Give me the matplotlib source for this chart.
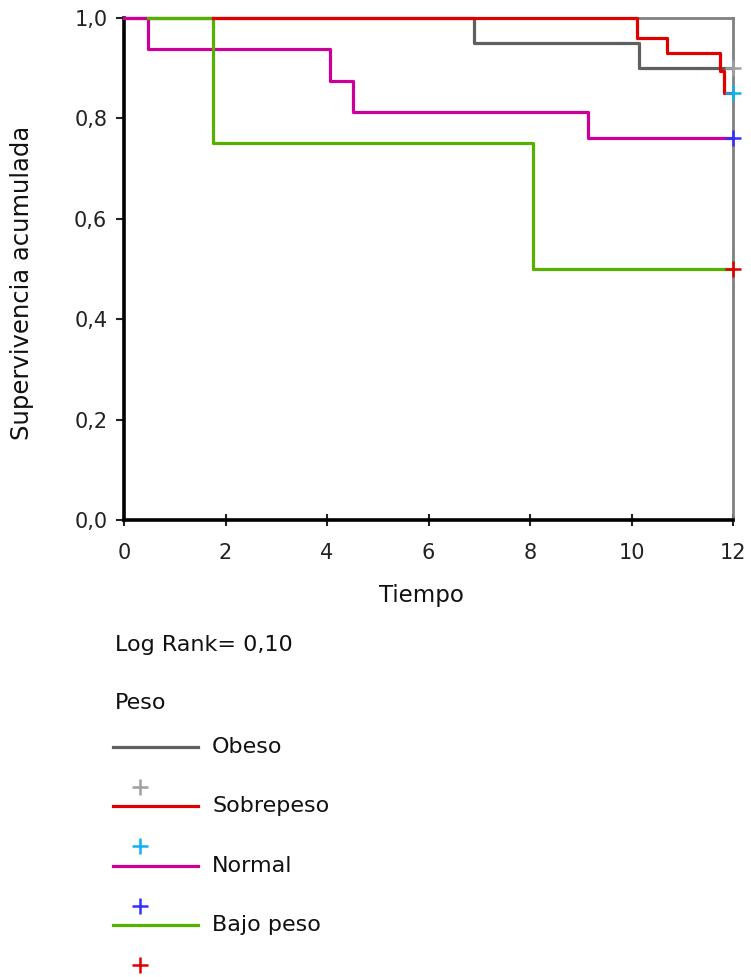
import numpy as np
import matplotlib.pyplot as plt
from matplotlib.lines import Line2D

# Kaplan-Meier step data (time, cumulative survival)
obeso_t = [0, 6.9, 10.15, 12]
obeso_s = [1.0, 0.95, 0.90, 0.90]
sobrepeso_t = [1.76, 10.1, 10.7, 11.74, 11.82, 12]
sobrepeso_s = [1.0, 0.96, 0.93, 0.895, 0.85, 0.85]
normal_t = [0, 0.48, 4.05, 4.52, 9.15, 12]
normal_s = [1.0, 0.9375, 0.875, 0.8125, 0.76, 0.76]
bajo_t = [0.48, 1.76, 8.05, 12]
bajo_s = [1.0, 0.75, 0.50, 0.50]

# censored observations (plus signs)
censor_t = [12, 12, 12, 12]
censor_s = [0.90, 0.85, 0.76, 0.50]

groups = ["Obeso", "Sobrepeso", "Normal", "Bajo peso"]
line_colors = ["#606060", "#e00000", "#cc0099", "#55b000"]
censor_colors = ["#a0a0a0", "#10b0f0", "#3030ff", "#e00000"]

x_ticks = [0, 2, 4, 6, 8, 10, 12]
y_ticks = [0.0, 0.2, 0.4, 0.6, 0.8, 1.0]
log_rank = "Log Rank= 0,10"

plt.rcParams['font.family'] = ['DejaVu Sans']

W, H = 751, 977
fig = plt.figure(figsize=(W / 100, H / 100), dpi=100)
ax = fig.add_axes([124 / W, 1 - 520 / H, (733 - 124) / W, (520 - 18) / H])

series = [(obeso_t, obeso_s), (normal_t, normal_s), (bajo_t, bajo_s), (sobrepeso_t, sobrepeso_s)]
order = [0, 2, 3, 1]
for (t, s), idx in zip(series, order):
    ax.step(t, s, where="post", color=line_colors[idx], lw=2.3, zorder=3, clip_on=False)

for i in range(4):
    ax.plot(censor_t[i], censor_s[i], marker="+", ms=12, mew=1.8, color=censor_colors[i],
            zorder=4, clip_on=False, linestyle="none")

ax.set_xlim(0, 12)
ax.set_ylim(0, 1)
ax.set_xticks(x_ticks)
ax.set_yticks(y_ticks)
ax.set_yticklabels([f"{v:.1f}".replace(".", ",") for v in y_ticks])
ax.tick_params(axis="x", direction="inout", length=9, width=1.5, labelsize=15, pad=12, colors="#222222")
ax.tick_params(axis="y", direction="out", length=6, width=1.5, labelsize=15, pad=6, colors="#222222")

for side in ["left", "bottom"]:
    ax.spines[side].set_color("black")
    ax.spines[side].set_linewidth(2.6)
for side in ["top", "right"]:
    ax.spines[side].set_color("#808080")
    ax.spines[side].set_linewidth(2.0)

ax.set_xlabel("Tiempo", fontsize=16.5, color="#111111")
ax.set_ylabel("Supervivencia acumulada", fontsize=17.5, color="#111111")
ax.xaxis.set_label_coords(0.4877, -0.128)
ax.yaxis.set_label_coords(-0.147, 0.472)

# legend block below the plot (pixel layout)
def fx(px):
    return px / W

def fy(py):
    return 1 - py / H

fig.text(fx(115), fy(645), log_rank, fontsize=16, va="center", color="#111111")
fig.text(fx(115), fy(703), "Peso", fontsize=16, va="center", color="#111111")
for i, name in enumerate(groups):
    ly = 747 + i * 59.3
    fig.add_artist(Line2D([fx(113), fx(198)], [fy(ly), fy(ly)], color=line_colors[i], lw=2.3))
    fig.text(fx(212), fy(ly), name, fontsize=16, va="center", color="#111111")
    fig.add_artist(Line2D([fx(140)], [fy(ly + 40)], marker="+", ms=11, mew=1.8,
                          color=censor_colors[i], linestyle="none"))

fig.savefig("out.png", dpi=100)
